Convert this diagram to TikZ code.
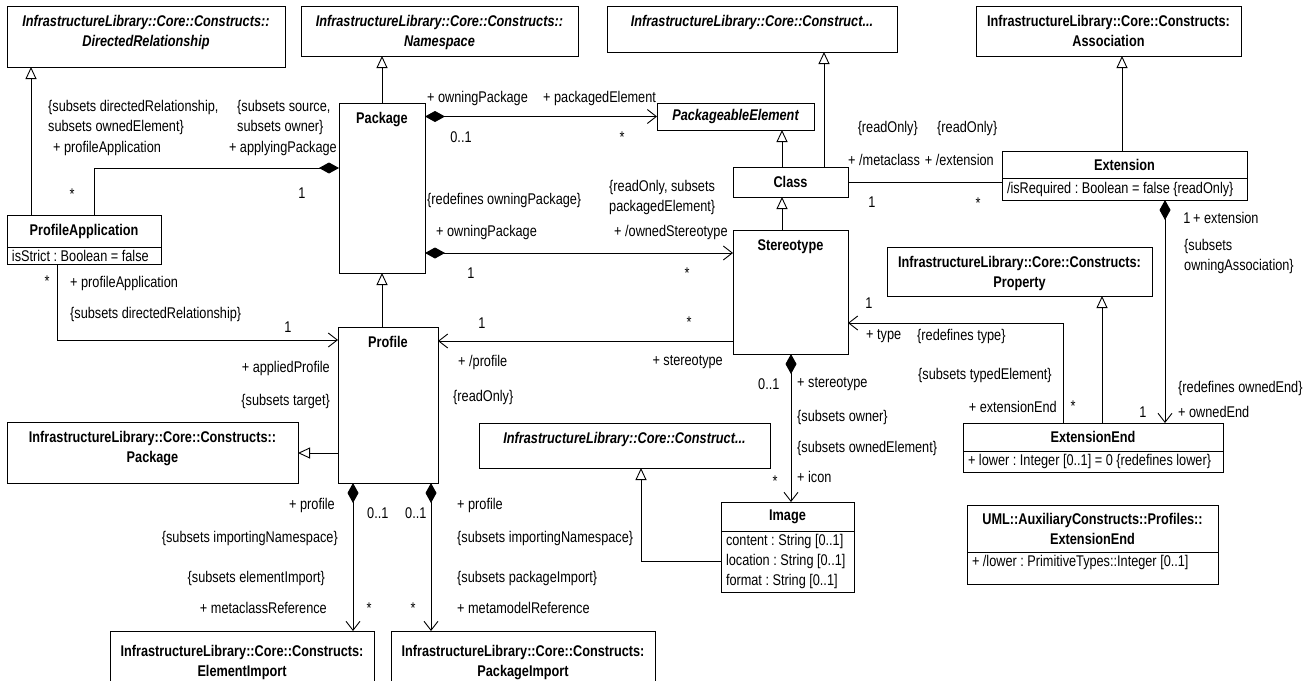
\documentclass[tikz,border=0pt]{standalone}
\usepackage{fontspec}
\setmainfont{Liberation Sans}[FakeStretch=0.82]
\usepackage{tikz}
\usetikzlibrary{arrows.meta, positioning}
\newcommand{\txt}{\fontsize{15.5}{20}\selectfont}
\frenchspacing

\begin{document}
\begin{tikzpicture}[
    x=1pt, y=-1pt,
    box/.style={rectangle, draw, line width=0.9pt, inner sep=0pt, outer sep=0pt, anchor=north west},
    hdr/.style={box, align=center, font=\txt\bfseries},
    attr/.style={rectangle, draw, line width=0.9pt, inner xsep=5pt, inner ysep=0pt, outer sep=0pt, align=left, font=\txt,
        execute at begin node={\spaceskip=0pt\xspaceskip=0pt}},
    boxname/.style={align=center, inner sep=0pt, font=\txt\bfseries},
    iboxname/.style={boxname, font=\txt\bfseries\itshape},
    lbl/.style={inner sep=0pt, font=\txt},
    gen/.style={-{Triangle[open, length=12pt, width=11pt]}, line width=0.9pt},
    link/.style={line width=0.9pt},
    assoc/.style={-{Straight Barb[length=9pt, width=14pt]}, line width=0.9pt},
    comp/.style={{Diamond[length=20pt, width=11pt]}-{Straight Barb[length=9pt, width=14pt]}, line width=0.9pt},
    whole/.style={{Diamond[length=20pt, width=11pt]}-, line width=0.9pt}
]
    \fill[white] (0,0) rectangle (1316,680);
    \useasboundingbox (0,0) rectangle (1316,680);
    \clip (0,0) rectangle (1316,680);

    \node[box, minimum width=278pt, minimum height=61pt] (dirrel) at (7,6) {};
    \node[iboxname, below=9pt of dirrel.north] (dirrel-name) {InfrastructureLibrary::Core::Constructs::\\DirectedRelationship};
    \node[box, minimum width=277pt, minimum height=50pt] (nspace) at (301,6) {};
    \node[iboxname, below=9pt of nspace.north] (nspace-name) {InfrastructureLibrary::Core::Constructs::\\Namespace};
    \node[box, minimum width=290pt, minimum height=46pt] (elem) at (607,6) {};
    \node[iboxname, below=9pt of elem.north] (elem-name) {InfrastructureLibrary::Core::Construct...};
    \node[box, minimum width=265pt, minimum height=50pt] (assoc) at (976,6) {};
    \node[boxname, below=9pt of assoc.north] (assoc-name) {InfrastructureLibrary::Core::Constructs:\\Association};

    \node[box, minimum width=86pt, minimum height=170pt] (pkg) at (339,103) {};
    \node[boxname, below=9pt of pkg.north] (pkg-name) {Package};
    \node[box, minimum width=157pt, minimum height=27pt, font=\txt\bfseries\itshape] (pkgel) at (657,103) {PackageableElement};
    \node[box, minimum width=115pt, minimum height=30pt, font=\txt\bfseries] (cls) at (733,167) {Class};
    \node[box, minimum width=115pt, minimum height=124pt] (stereo) at (733,230) {};
    \node[boxname, below=9pt of stereo.north] (stereo-name) {Stereotype};

    \node[hdr, minimum width=245pt, minimum height=27pt] (exthd) at (1002,151) {Extension};
    \node[attr, text width=235pt, minimum height=22pt, below=0pt of exthd] (extat) {/isRequired : Boolean = false \{readOnly\}};

    \node[hdr, minimum width=154pt, minimum height=32pt] (pahd) at (7,215) {ProfileApplication};
    \node[attr, text width=144pt, minimum height=17pt, below=0pt of pahd] (paat) {isStrict : Boolean = false};

    \node[box, minimum width=100pt, minimum height=156pt] (profile) at (338,327) {};
    \node[boxname, below=9pt of profile.north] (profile-name) {Profile};
    \node[box, minimum width=291pt, minimum height=61pt] (cpkg) at (7,422) {};
    \node[boxname, below=9pt of cpkg.north] (cpkg-name) {InfrastructureLibrary::Core::Constructs::\\Package};
    \node[box, minimum width=291pt, minimum height=45pt] (elem2) at (479,423) {};
    \node[iboxname, below=9pt of elem2.north] (elem2-name) {InfrastructureLibrary::Core::Construct...};

    \node[hdr, minimum width=133pt, minimum height=29pt] (imghd) at (721,502) {Image};
    \node[attr, text width=123pt, minimum height=61pt, below=0pt of imghd] (imgat) {content : String [0..1]\\location : String [0..1]\\format : String [0..1]};

    \node[box, minimum width=265pt, minimum height=49pt] (prop) at (887,247) {};
    \node[boxname, below=9pt of prop.north] (prop-name) {InfrastructureLibrary::Core::Constructs:\\Property};
    \node[hdr, minimum width=260pt, minimum height=28pt] (eehd) at (963,423) {ExtensionEnd};
    \node[attr, text width=250pt, minimum height=21pt, below=0pt of eehd] (eeat) {+ lower : Integer [0..1] = 0 \{redefines lower\}};
    \node[hdr, minimum width=251pt, minimum height=47pt] (auxhd) at (967,505) {UML::AuxiliaryConstructs::Profiles::\\ExtensionEnd};
    \node[attr, text width=241pt, text height=11pt, text depth=14pt, inner ysep=3.5pt, below=0pt of auxhd] (auxat) {+ /lower : PrimitiveTypes::Integer [0..1]};

    \node[box, minimum width=264pt, minimum height=61pt] (elimp) at (110,631) {};
    \node[boxname, below=14pt of elimp.north] (elimp-name) {InfrastructureLibrary::Core::Constructs:\\ElementImport};
    \node[box, minimum width=264pt, minimum height=61pt] (pkgimp) at (391,631) {};
    \node[boxname, below=14pt of pkgimp.north] (pkgimp-name) {InfrastructureLibrary::Core::Constructs:\\PackageImport};

    \draw[gen] (31,0 |- pahd.north) -- (31,0 |- dirrel.south);
    \draw[gen] (pkg.north) -- (pkg.north |- nspace.south);
    \draw[gen] (782,0 |- cls.north) -- (782,0 |- pkgel.south);
    \draw[gen] (824,0 |- cls.north) -- (824,0 |- elem.south);
    \draw[gen] (782,0 |- stereo.north) -- (782,0 |- cls.south);
    \draw[gen] (1122,0 |- exthd.north) -- (1122,0 |- assoc.south);
    \draw[gen] (1102,0 |- eehd.north) -- (1102,0 |- prop.south);
    \draw[gen] (pkg.south |- profile.north) -- (pkg.south);
    \draw[gen] (0,453 -| profile.west) -- (0,453 -| cpkg.east);
    \draw[gen] (imgat.west) -| (641,0 |- elem2.south);

    \draw[whole] (0,168 -| pkg.west) -| (94,0 |- pahd.north);
    \draw[comp] (pkg.east |- pkgel.west) -- (pkgel.west);
    \draw[comp] (0,253 -| pkg.east) -- (0,253 -| stereo.west);
    \draw[link] (cls.east) -- (cls.east -| extat.west);
    \draw[comp] (1165,0 |- extat.south) -- (1165,0 |- eehd.north);
    \draw[assoc] (1063,0 |- eehd.north) |- (0,323 -| stereo.east);
    \draw[assoc] (57,0 |- paat.south) |- (0,340 -| profile.west);
    \draw[assoc] (0,341 -| stereo.west) -- (0,341 -| profile.east);
    \draw[comp] (791,0 |- stereo.south) -- (791,0 |- imghd.north);
    \draw[comp] (353,0 |- profile.south) -- (353,0 |- elimp.north);
    \draw[comp] (431,0 |- profile.south) -- (431,0 |- pkgimp.north);

    \node[lbl, anchor=west, align=left] (pa-subsets) at (48,117) {\{subsets directedRelationship,\\subsets ownedElement\}};
    \node[lbl, anchor=west] (pa-role) at (53,148) {+ profileApplication};
    \node[lbl] (pa-mult) at (72,194) {*};
    \node[lbl, anchor=west, align=left] (ap-subsets) at (237,117) {\{subsets source,\\subsets owner\}};
    \node[lbl, anchor=east] (ap-role) at (337,148) {+ applyingPackage};
    \node[lbl] (ap-mult) at (302,193) {1};

    \node[lbl, anchor=west] (op-role) at (427,98) {+ owningPackage};
    \node[lbl] (op-mult) at (461,137) {0..1};
    \node[lbl, anchor=west] (pe-role) at (543,98) {+ packagedElement};
    \node[lbl] (pe-mult) at (622,137) {*};

    \node[lbl, anchor=west] (op2-redef) at (427,200) {\{redefines owningPackage\}};
    \node[lbl, anchor=west] (op2-role) at (436,232) {+ owningPackage};
    \node[lbl] (op2-mult) at (471,273) {1};
    \node[lbl, anchor=west, align=left] (os-subsets) at (609,197) {\{readOnly, subsets\\packagedElement\}};
    \node[lbl, anchor=west] (os-role) at (614,232) {+ /ownedStereotype};
    \node[lbl] (os-mult) at (687,273) {*};

    \node[lbl, anchor=east] (mc-ro) at (918,128) {\{readOnly\}};
    \node[lbl, anchor=west] (ex-ro) at (937,128) {\{readOnly\}};
    \node[lbl, anchor=west] (mc-role) at (848,160) {+ /metaclass};
    \node[lbl, anchor=east] (ex-role) at (994,160) {+ /extension};
    \node[lbl] (mc-mult) at (872,202) {1};
    \node[lbl] (ex-mult) at (978,203) {*};

    \node[lbl] (oa-mult) at (1187,218) {1};
    \node[lbl, anchor=west] (oa-role) at (1193,218) {+ extension};
    \node[lbl, anchor=west, align=left] (oa-subsets) at (1184,256) {\{subsets\\owningAssociation\}};
    \node[lbl, anchor=west] (oe-redef) at (1178,388) {\{redefines ownedEnd\}};
    \node[lbl, anchor=west] (oe-role) at (1178,412) {+ ownedEnd};
    \node[lbl] (oe-mult) at (1143,412) {1};

    \node[lbl] (ty-mult) at (869,303) {1};
    \node[lbl, anchor=west] (ty-role) at (866,336) {+ type};
    \node[lbl, anchor=west] (ty-redef) at (917,336) {\{redefines type\}};
    \node[lbl, anchor=west] (ee-subsets) at (918,375) {\{subsets typedElement\}};
    \node[lbl, anchor=east] (ee-role) at (1057,407) {+ extensionEnd};
    \node[lbl] (ee-mult) at (1073,406) {*};

    \node[lbl] (pr-mult) at (482,323) {1};
    \node[lbl, anchor=west] (pr-role) at (458,362) {+ /profile};
    \node[lbl, anchor=west] (pr-ro) at (453,397) {\{readOnly\}};
    \node[lbl] (st-mult) at (689,322) {*};
    \node[lbl, anchor=east] (st-role) at (723,362) {+ stereotype};

    \node[lbl, anchor=west] (ow-mult) at (758,384) {0..1};
    \node[lbl, anchor=west] (ow-role) at (797,384) {+ stereotype};
    \node[lbl, anchor=west] (ow-subsets) at (797,417) {\{subsets owner\}};
    \node[lbl, anchor=west] (ic-subsets) at (797,448) {\{subsets ownedElement\}};
    \node[lbl, anchor=west] (ic-role) at (797,477) {+ icon};
    \node[lbl] (ic-mult) at (775,481) {*};

    \node[lbl] (ap2-mult) at (47,281) {*};
    \node[lbl, anchor=west] (ap2-role) at (70,283) {+ profileApplication};
    \node[lbl, anchor=west] (ap2-subsets) at (70,314) {\{subsets directedRelationship\}};
    \node[lbl] (apr-mult) at (288,327) {1};
    \node[lbl, anchor=east] (apr-role) at (330,368) {+ appliedProfile};
    \node[lbl, anchor=east] (apr-subsets) at (330,401) {\{subsets target\}};

    \node[lbl, anchor=east] (mr-owner) at (335,505) {+ profile};
    \node[lbl, anchor=west] (mr-omult) at (367,513) {0..1};
    \node[lbl, anchor=east] (mr-ns) at (338,538) {\{subsets importingNamespace\}};
    \node[lbl, anchor=east] (mr-subsets) at (325,578) {\{subsets elementImport\}};
    \node[lbl, anchor=east] (mr-role) at (327,608) {+ metaclassReference};
    \node[lbl] (mr-mult) at (369,608) {*};

    \node[lbl, anchor=west] (mm-omult) at (405,513) {0..1};
    \node[lbl, anchor=west] (mm-owner) at (457,505) {+ profile};
    \node[lbl, anchor=west] (mm-ns) at (457,538) {\{subsets importingNamespace\}};
    \node[lbl, anchor=west] (mm-subsets) at (457,578) {\{subsets packageImport\}};
    \node[lbl, anchor=west] (mm-role) at (457,608) {+ metamodelReference};
    \node[lbl] (mm-mult) at (413,608) {*};
\end{tikzpicture}
\end{document}
